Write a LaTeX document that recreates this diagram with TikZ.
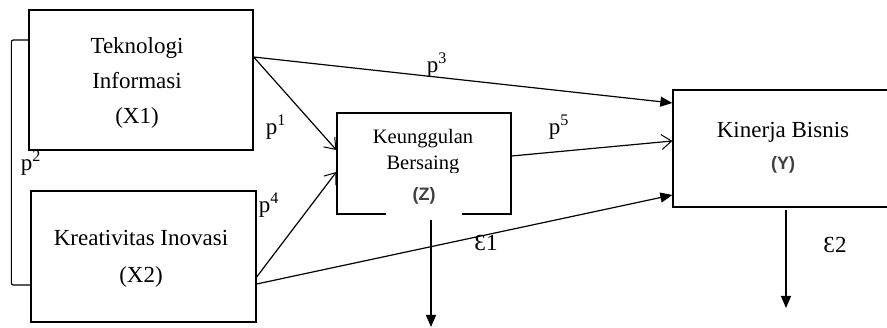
\documentclass[tikz,border=0pt]{standalone}
\usepackage{fontspec}
\setmainfont{Liberation Serif}
\newfontfamily\tagfont{Liberation Sans}
\usetikzlibrary{arrows.meta,calc}
\begin{document}
\begin{tikzpicture}[x=1pt,y=-1pt,
  box/.style={draw,line width=1.3pt,inner sep=0pt},
  lbl/.style={font=\fontsize{23}{35}\selectfont,inner sep=0pt,align=center},
  small/.style={font=\fontsize{20.5}{26}\selectfont,inner sep=0pt,align=center},
  conn/.style={line width=1.2pt},
  solidtip/.style={-{Triangle[length=12pt,width=10pt]}},
  opentip/.style={-{Straight Barb[length=10pt,width=15pt,line width=1pt]}},
  tag/.style={fill=white,text=black!75,inner sep=0pt,font=\tagfont\bfseries\fontsize{18}{20}\selectfont}
]
\useasboundingbox (0,0) rectangle (887,328);

% boxes
\node[box,minimum width=224pt,minimum height=140pt] (X1) at (141,80) {};
\node[box,minimum width=225pt,minimum height=131pt] (X2) at (143.5,256.5) {};
\node[box,minimum width=174pt,minimum height=101pt] (Z) at (424,163.5) {};
\node[box,minimum width=240pt,minimum height=117pt] (Y) at (793,148.5) {};

% texts
\node[lbl] (tX1) at (137,83) {Teknologi\\Informasi\\(X1)};
\node[lbl,font=\fontsize{23}{37}\selectfont] (tX2) at (141,258.5) {Kreativitas Inovasi\\(X2)};
\node[small] (tZ) at (423,152) {Keunggulan\\Bersaing};
\node[lbl] (tY) at (783,132) {Kinerja Bisnis};

% white tags
\node[tag,minimum width=76pt,minimum height=45pt] (gZ) at (424,196) {(Z)};
\node[tag,minimum width=60pt,minimum height=40pt] (gY) at (783,165) {(Y)};

% correlation bracket
\coordinate (bA) at ([yshift=40pt]X1.west);
\coordinate (bB) at ([yshift=-28.5pt]X2.west);
\draw[conn,rounded corners=2pt] (bA) -- ++(-17,0) coordinate (b1)
  -- (b1 |- bB) -- (bB);

% paths
\draw[conn,solidtip] ([yshift=23pt]X1.east) -- ([yshift=45.5pt]Y.west);
\draw[conn,opentip] ([yshift=23pt]X1.east) -- ([yshift=13.5pt]Z.west);
\draw[conn,opentip] ([yshift=-20.5pt]X2.east) -- ([yshift=-8.5pt]Z.west);
\draw[conn,solidtip] ([yshift=-27.5pt]X2.east) -- ([yshift=-46.5pt]Y.west);
\draw[conn,opentip] ([yshift=7.5pt]Z.east) -- ([yshift=7.5pt]Y.west);

% error arrows
\coordinate (e1s) at (431,220);
\coordinate (e1e) at (431,327);
\draw[conn,solidtip] (e1s) -- (e1e);
\coordinate (e2s) at (786,210);
\coordinate (e2e) at (786,308);
\draw[conn,solidtip] (e2s) -- (e2e);

% labels
\node[lbl] (p1) at (276,127) {p\textsuperscript{1}};
\node[lbl] (p2) at (31,163) {p\textsuperscript{2}};
\node[lbl] (p3) at (437,65) {p\textsuperscript{3}};
\node[lbl] (p4) at (269,205) {p\textsuperscript{4}};
\node[lbl] (p5) at (559,127) {p\textsuperscript{5}};
\node[lbl] (eps1) at (486,243) {Ɛ1};
\node[lbl] (eps2) at (835,245) {Ɛ2};
\end{tikzpicture}
\end{document}
